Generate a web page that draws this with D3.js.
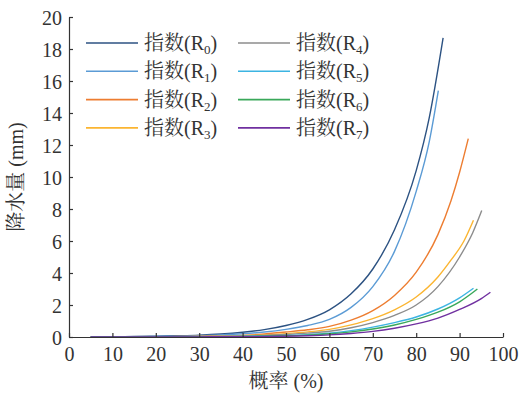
<!DOCTYPE html>
<html><head><meta charset="utf-8">
<script src="https://cdn.jsdelivr.net/npm/d3@7"></script>
<style>body{margin:0;background:#fff}</style>
</head><body>
<svg id="c" width="528" height="394"></svg>
<script>
const seriesNames = ["R0","R1","R2","R3","R4","R5","R6","R7"];
const seriesColors = ["#2c5282","#5b9bd5","#ed7d31","#fbb531","#8c8c8c","#3cb4e2","#3aa85a","#7030a0"];
const xR0 = [5,10,15,20,25,30,35,40,45,50,55,60,65,70,75,80,83,86.2];
const yR0 = [0.01,0.02,0.03,0.05,0.08,0.12,0.19,0.3,0.46,0.72,1.1,1.7,2.7,4.25,6.7,10.4,13.7,18.7];
const xR1 = [5,10,15,20,25,30,35,40,45,50,55,60,65,70,75,80,83,85.1];
const yR1 = [0.01,0.01,0.02,0.03,0.05,0.08,0.13,0.2,0.31,0.48,0.72,1.1,1.85,3.15,5.35,9.1,12.2,15.4];
const xR2 = [5,10,15,20,25,30,35,40,45,50,55,60,65,70,75,80,85,88,90,92];
const yR2 = [0,0.01,0.01,0.02,0.03,0.04,0.07,0.1,0.19,0.31,0.45,0.66,1.05,1.65,2.6,4.05,6.4,8.5,10.3,12.4];
const xR3 = [5,10,15,20,25,30,35,40,45,50,55,60,65,70,75,80,85,88,91,93.2];
const yR3 = [0,0.01,0.01,0.01,0.02,0.03,0.05,0.08,0.13,0.21,0.32,0.48,0.76,1.15,1.7,2.5,3.75,4.8,6.0,7.3];
const xR4 = [5,10,15,20,25,30,35,40,45,50,55,60,65,70,75,80,85,90,93,95.1];
const yR4 = [0,0,0.01,0.01,0.02,0.03,0.04,0.06,0.1,0.16,0.24,0.36,0.58,0.9,1.35,2.0,3.15,5.0,6.5,7.9];
const xR5 = [5,10,15,20,25,30,35,40,45,50,55,60,65,70,75,80,85,90,93.2];
const yR5 = [0,0,0,0.01,0.01,0.02,0.03,0.04,0.07,0.1,0.15,0.24,0.4,0.62,0.9,1.25,1.75,2.45,3.05];
const xR6 = [5,10,15,20,25,30,35,40,45,50,55,60,65,70,75,80,85,90,94.1];
const yR6 = [0,0,0,0.01,0.01,0.02,0.02,0.03,0.05,0.08,0.12,0.2,0.32,0.5,0.75,1.1,1.55,2.2,3.0];
const xR7 = [5,10,15,20,25,30,35,40,45,50,55,60,65,70,75,80,85,90,95,97.1];
const yR7 = [0,0,0,0,0.01,0.01,0.02,0.02,0.03,0.05,0.08,0.13,0.22,0.35,0.55,0.82,1.18,1.72,2.4,2.8];
const xTicks = [0,10,20,30,40,50,60,70,80,90,100];
const yTicks = [0,2,4,6,8,10,12,14,16,18,20];

const xs = [xR0,xR1,xR2,xR3,xR4,xR5,xR6,xR7];
const ys = [yR0,yR1,yR2,yR3,yR4,yR5,yR6,yR7];

const svg = d3.select("#c");
const L = 69, R = 503, T = 17, B = 337;
const x = d3.scaleLinear().domain([0,100]).range([L,R]);
const y = d3.scaleLinear().domain([0,20]).range([B,T]);
const serif = "'Liberation Serif','Times New Roman','Noto Serif CJK SC','Noto Sans CJK SC',serif";
const textColor = "#333";

const line = d3.line().x(d=>x(d[0])).y(d=>y(d[1])).curve(d3.curveMonotoneX);
seriesNames.forEach((n,i)=>{
  const pts = xs[i].map((v,j)=>[v,ys[i][j]]);
  svg.append("path").datum(pts).attr("d",line)
    .attr("fill","none").attr("stroke",seriesColors[i]).attr("stroke-width",1.4);
});

const gx = svg.append("g").attr("transform",`translate(0,${B})`)
  .call(d3.axisBottom(x).tickValues(xTicks).tickSize(-4).tickSizeOuter(0).tickPadding(10));
const gy = svg.append("g").attr("transform",`translate(${L},0)`)
  .call(d3.axisLeft(y).tickValues(yTicks).tickSize(-4).tickSizeOuter(0).tickPadding(7));
[gx,gy].forEach(g=>{
  g.select(".domain").attr("stroke",textColor).attr("stroke-width",1.2);
  g.selectAll(".tick line").attr("stroke",textColor).attr("stroke-width",1.2);
  g.selectAll(".tick text").attr("fill",textColor).style("font-family",serif).style("font-size","20px");
});
gy.selectAll(".tick text").attr("dy","0.36em");
gx.selectAll(".tick text").attr("dy","0.72em");

svg.append("text").attr("x",(L+R)/2).attr("y",388).attr("text-anchor","middle")
  .attr("fill",textColor).style("font-family",serif).style("font-size","20px").text("概率 (%)");
svg.append("text").attr("transform",`translate(23,${(T+B)/2}) rotate(-90)`).attr("text-anchor","middle")
  .attr("fill",textColor).style("font-family",serif).style("font-size","20px").text("降水量 (mm)");

// legend
seriesNames.forEach((n,i)=>{
  const col = Math.floor(i/4), row = i%4;
  const lx = col===0 ? 86 : 238;
  const ly = 43 + row*28.3;
  svg.append("line").attr("x1",lx).attr("x2",lx+52).attr("y1",ly).attr("y2",ly)
    .attr("stroke",seriesColors[i]).attr("stroke-width",1.6);
  const t = svg.append("text").attr("x",lx+58).attr("y",ly+7).attr("fill",textColor)
    .style("font-family",serif).style("font-size","20px");
  t.append("tspan").text("指数(R");
  t.append("tspan").attr("dy",4).style("font-size","13px").text(n.slice(1));
  t.append("tspan").attr("dy",-4).text(")");
});
</script>
</body></html>
